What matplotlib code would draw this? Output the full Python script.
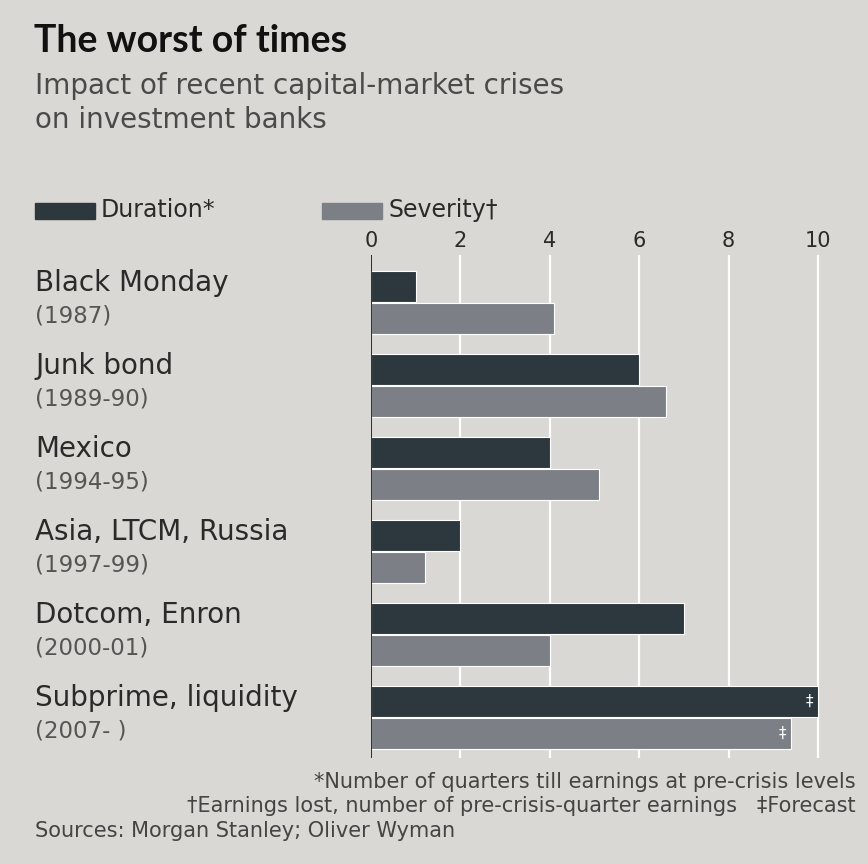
import matplotlib.pyplot as plt
from matplotlib.patches import Rectangle

# data
crises = ["Black Monday", "Junk bond", "Mexico", "Asia, LTCM, Russia",
          "Dotcom, Enron", "Subprime, liquidity"]
years = ["(1987)", "(1989-90)", "(1994-95)", "(1997-99)", "(2000-01)", "(2007- )"]
duration = [1, 6, 4, 2, 7, 10]
severity = [4.1, 6.6, 5.1, 1.2, 4.0, 9.4]
ticks = [0, 2, 4, 6, 8, 10]

BG = "#dad8d4"
DARK = "#2c383e"
LIGHT = "#7c7f86"
TXT = "#2a2a2a"
plt.rcParams['font.family'] = ['DejaVu Sans']

W, H = 868, 864
fig = plt.figure(figsize=(W / 100, H / 100), dpi=100, facecolor=BG)

def px(x, y):
    return x / W, 1 - y / H

# axes from pixel 371 to 830 horizontally, 255 to 758 vertically
ax = fig.add_axes([371 / W, 1 - 758 / H, (830 - 371) / W, (758 - 255) / H])
ax.set_facecolor(BG)
ax.set_xlim(0, 10.27)
ax.set_ylim(5.49, -0.57)

pos = list(range(len(crises)))
bh = 0.375
ax.barh([p - 0.19 for p in pos], duration, height=bh, color=DARK,
        edgecolor="white", linewidth=0.8, zorder=3)
ax.barh([p + 0.19 for p in pos], severity, height=bh, color=LIGHT,
        edgecolor="white", linewidth=0.8, zorder=3)

# forecast markers on the last pair
ax.text(duration[-1] - 0.2, pos[-1] - 0.19, "\u2021", color="white",
        ha="center", va="center", fontsize=11, zorder=4)
ax.text(severity[-1] - 0.2, pos[-1] + 0.19, "\u2021", color="white",
        ha="center", va="center", fontsize=11, zorder=4)

for t in ticks:
    ax.axvline(t, color="white", linewidth=1.6, zorder=1)
ax.axvline(0, color="#333333", linewidth=1.5, zorder=4)

ax.xaxis.tick_top()
ax.set_xticks(ticks)
ax.set_xticklabels([str(t) for t in ticks], fontsize=15, color=TXT)
ax.tick_params(axis="x", length=0, pad=3)
ax.set_yticks([])
for s in ax.spines.values():
    s.set_visible(False)

# category labels on the left
for i, (c, y) in enumerate(zip(crises, years)):
    yc = 302 + 83 * i
    fig.text(*px(35, yc - 19), c, fontsize=20, color=TXT, va="center", ha="left")
    fig.text(*px(35, yc + 14), y, fontsize=16.5, color="#555555", va="center", ha="left")

# titles
fig.text(*px(34, 41), "The worst of times", fontsize=27, fontweight="bold",
         family=["Lato", "DejaVu Sans"], color="#111111", va="center", ha="left")
fig.text(*px(35, 86), "Impact of recent capital-market crises", fontsize=20,
         color="#4a4a4a", va="center", ha="left")
fig.text(*px(35, 120), "on investment banks", fontsize=20,
         color="#4a4a4a", va="center", ha="left")

# legend
for (x0, col, lab) in [(35, DARK, "Duration*"), (322, LIGHT, "Severity\u2020")]:
    fig.patches.append(Rectangle(px(x0, 219), 60 / W, 16 / H, color=col,
                                 transform=fig.transFigure, figure=fig))
    fig.text(*px(x0 + 66, 210), lab, fontsize=17, color=TXT, va="center", ha="left")

# footnotes
fig.text(*px(856, 782), "*Number of quarters till earnings at pre-crisis levels",
         fontsize=15, color="#444444", va="center", ha="right")
fig.text(*px(856, 806),
         "\u2020Earnings lost, number of pre-crisis-quarter earnings   \u2021Forecast",
         fontsize=15, color="#444444", va="center", ha="right")
fig.text(*px(35, 831), "Sources: Morgan Stanley; Oliver Wyman",
         fontsize=15, color="#444444", va="center", ha="left")

fig.savefig("out.png", dpi=100, facecolor=BG)
